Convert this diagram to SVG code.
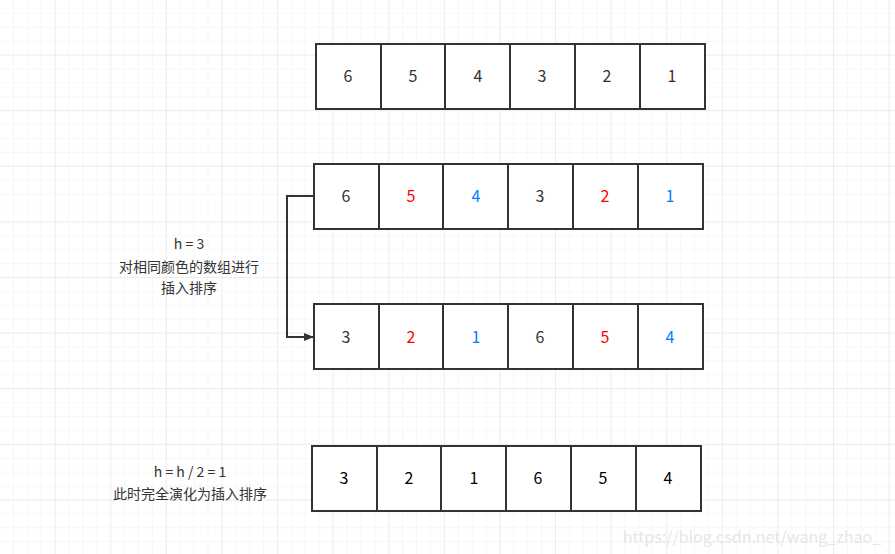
<svg xmlns="http://www.w3.org/2000/svg" width="895" height="554" viewBox="0 0 895 554">
<defs>
<pattern id="minor" width="13.9" height="13.9" patternUnits="userSpaceOnUse"><path d="M13.9 0V13.9H0" fill="none" stroke="#efefef" stroke-width="1"/></pattern>
<pattern id="major" width="55.6" height="55.6" patternUnits="userSpaceOnUse"><path d="M55.6 0V55.6H0" fill="none" stroke="#e3e3e3" stroke-width="1"/></pattern>
<marker id="ah" markerWidth="10" markerHeight="8" refX="9" refY="4" orient="auto" markerUnits="userSpaceOnUse"><path d="M0 0L10 4L0 8Z" fill="#333"/></marker>
</defs>
<style>
.c{fill:#fff;stroke:#333;stroke-width:2}
text{font-family:"Microsoft YaHei","Noto Sans CJK SC",sans-serif;font-size:16px;text-anchor:middle;fill:#333}
.r{fill:#ff0000}.b{fill:#007fff}.k{fill:#000}
.l{font-size:14px}
</style>
<rect width="895" height="554" fill="#fff"/>
<rect width="895" height="554" fill="url(#minor)"/>
<rect width="895" height="554" fill="url(#major)"/>
<g id="row1">
<rect class="c" x="316" y="44" width="65" height="65"/><rect class="c" x="381" y="44" width="64" height="65"/><rect class="c" x="445" y="44" width="65" height="65"/><rect class="c" x="510" y="44" width="65" height="65"/><rect class="c" x="575" y="44" width="65" height="65"/><rect class="c" x="640" y="44" width="65" height="65"/>
<text x="348" y="82">6</text><text x="413" y="82">5</text><text x="478" y="82">4</text><text x="542" y="82">3</text><text x="607" y="82">2</text><text x="672" y="82" style="fill:#5a1a1a">1</text>
</g>
<g id="row2">
<rect class="c" x="314" y="164" width="65" height="65"/><rect class="c" x="379" y="164" width="64" height="65"/><rect class="c" x="443" y="164" width="65" height="65"/><rect class="c" x="508" y="164" width="65" height="65"/><rect class="c" x="573" y="164" width="65" height="65"/><rect class="c" x="638" y="164" width="65" height="65"/>
<text x="346" y="202">6</text><text x="411" y="202" class="r">5</text><text x="476" y="202" class="b">4</text><text x="540" y="202">3</text><text x="605" y="202" class="r">2</text><text x="670" y="202" class="b">1</text>
</g>
<g id="row3">
<rect class="c" x="314" y="304" width="65" height="65"/><rect class="c" x="379" y="304" width="64" height="65"/><rect class="c" x="443" y="304" width="65" height="65"/><rect class="c" x="508" y="304" width="65" height="65"/><rect class="c" x="573" y="304" width="65" height="65"/><rect class="c" x="638" y="304" width="65" height="65"/>
<text x="346" y="343">3</text><text x="411" y="343" class="r">2</text><text x="476" y="343" class="b">1</text><text x="540" y="343">6</text><text x="605" y="343" class="r">5</text><text x="670" y="343" class="b">4</text>
</g>
<g id="row4">
<rect class="c" x="312" y="446" width="65" height="65"/><rect class="c" x="377" y="446" width="64" height="65"/><rect class="c" x="441" y="446" width="65" height="65"/><rect class="c" x="506" y="446" width="65" height="65"/><rect class="c" x="571" y="446" width="65" height="65"/><rect class="c" x="636" y="446" width="65" height="65"/>
<text x="344" y="484" class="k">3</text><text x="409" y="484" class="k">2</text><text x="474" y="484" class="k">1</text><text x="538" y="484" class="k">6</text><text x="603" y="484" class="k">5</text><text x="668" y="484" class="k">4</text>
</g>
<g id="connectors">
<path d="M314 196H287V337H313" fill="none" stroke="#333" stroke-width="2" marker-end="url(#ah)"/>
</g>
<g id="label1">
<text class="l" x="189" y="249">h = 3</text>
<text class="l" x="189" y="272">对相同颜色的数组进行</text>
<text class="l" x="189" y="293">插入排序</text>
</g>
<g id="label2">
<text class="l" x="190" y="477">h = h / 2 = 1</text>
<text class="l" x="190" y="499">此时完全演化为插入排序</text>
</g>
<text x="752" y="543" style="font-size:16px;fill:#e6e6e6">https://blog.csdn.net/wang_zhao_</text>
</svg>
